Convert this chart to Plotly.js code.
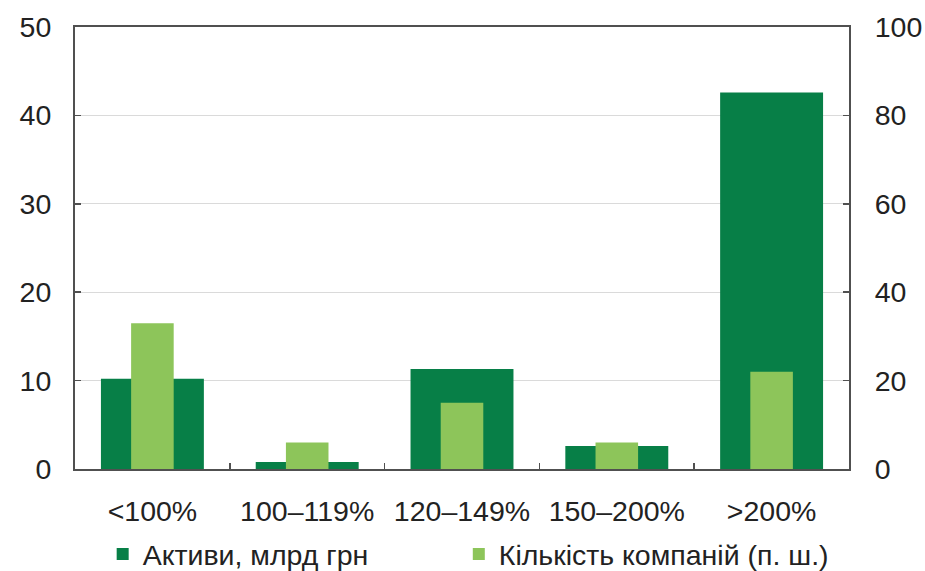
<!DOCTYPE html>
<html>
<head>
<meta charset="utf-8">
<script src="https://cdn.plot.ly/plotly-3.0.1.min.js"></script>
<style>html,body{margin:0;padding:0;background:#fff;}#chart{width:925px;height:571px;}</style>
</head>
<body>
<div id="chart"></div>
<script>
var categories = ["<100%", "100–119%", "120–149%", "150–200%", ">200%"];
var assets = [10.2, 0.8, 11.3, 2.6, 42.6];
var companies = [33, 6, 15, 6, 22];
var leftTicks = [0, 10, 20, 30, 40, 50];
var rightTicks = [0, 20, 40, 60, 80, 100];
var seriesNames = ["Активи, млрд грн", "Кількість компаній (п. ш.)"];

var fontFam = "Liberation Sans, Arial, sans-serif";
var txt = "#222222";
var axisCol = "#505050";
var fs = 28.5;

var traces = [
  {type: "bar", x: categories, y: assets, name: seriesNames[0], yaxis: "y", legend: "legend",
   marker: {color: "#077f47"}, width: 0.665, hoverinfo: "y"},
  {type: "bar", x: categories, y: companies, name: seriesNames[1], yaxis: "y2", legend: "legend2",
   marker: {color: "#8dc55a"}, width: 0.275, hoverinfo: "y"}
];

var legendBase = {orientation: "h", xref: "container", yref: "container",
                  xanchor: "left", yanchor: "middle", y: 0.029,
                  font: {family: fontFam, size: fs, color: txt},
                  borderwidth: 0, bgcolor: "rgba(0,0,0,0)"};

var layout = {
  width: 925, height: 571,
  margin: {l: 75, r: 76, t: 27, b: 102, autoexpand: false},
  paper_bgcolor: "#ffffff", plot_bgcolor: "#ffffff",
  barmode: "overlay",
  font: {family: fontFam, size: fs, color: txt},
  showlegend: true,
  legend: Object.assign({}, legendBase, {x: 0.111}),
  legend2: Object.assign({}, legendBase, {x: 0.496}),
  xaxis: {type: "category", showline: true, linecolor: axisCol, linewidth: 2, mirror: true,
          ticks: "inside", tickson: "boundaries", ticklen: 6, tickcolor: axisCol, tickwidth: 1.5,
          showgrid: false, zeroline: false, ticklabelstandoff: 16, automargin: false,
          tickfont: {family: fontFam, size: fs, color: txt}},
  yaxis: {range: [0, 50], tickvals: leftTicks, showline: true, linecolor: axisCol, linewidth: 2,
          ticks: "inside", ticklen: 6, tickcolor: axisCol, tickwidth: 1.5, automargin: false,
          showgrid: true, gridcolor: "#dadada", gridwidth: 1.2, zeroline: false,
          ticklabelstandoff: 16, tickfont: {family: fontFam, size: fs, color: txt}},
  yaxis2: {range: [0, 100], tickvals: rightTicks, overlaying: "y", side: "right",
           showline: true, linecolor: axisCol, linewidth: 2, automargin: false,
           ticks: "inside", ticklen: 6, tickcolor: axisCol, tickwidth: 1.5,
           showgrid: false, zeroline: false, ticklabelstandoff: 18,
           tickfont: {family: fontFam, size: fs, color: txt}}
};

Plotly.newPlot("chart", traces, layout, {displayModeBar: false, staticPlot: true});
</script>
</body>
</html>
